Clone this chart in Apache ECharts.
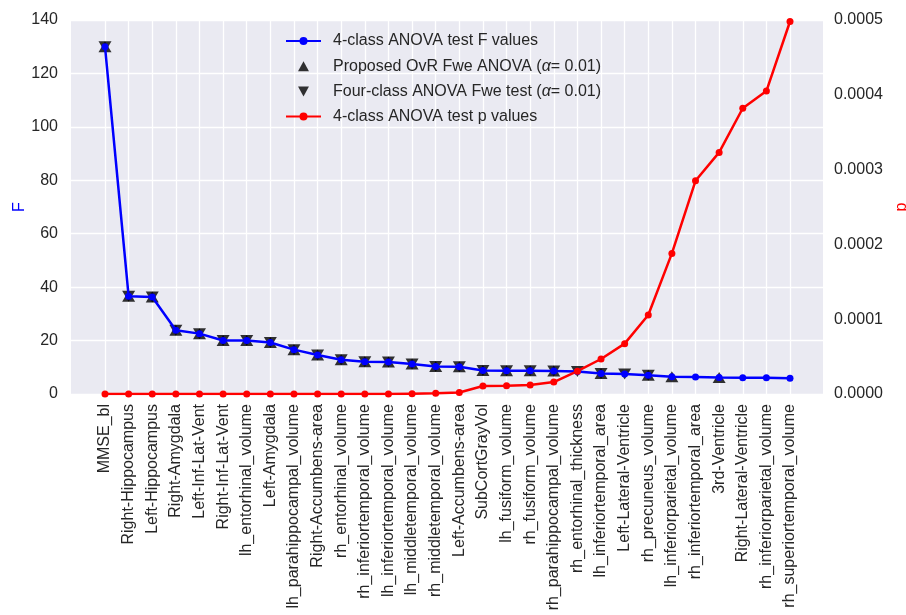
<!DOCTYPE html>
<html>
<head>
<meta charset="utf-8">
<script src="https://cdn.jsdelivr.net/npm/echarts@6/dist/echarts.min.js"></script>
<style>
  html, body { margin: 0; padding: 0; background: #fff; }
  #chart { width: 906px; height: 615px; }
</style>
</head>
<body>
<div id="chart"></div>
<script>
const features = [
    'MMSE_bl', 'Right-Hippocampus', 'Left-Hippocampus', 'Right-Amygdala', 'Left-Inf-Lat-Vent',
    'Right-Inf-Lat-Vent', 'lh_entorhinal_volume', 'Left-Amygdala', 'lh_parahippocampal_volume',
    'Right-Accumbens-area', 'rh_entorhinal_volume', 'rh_inferiortemporal_volume',
    'lh_inferiortemporal_volume', 'lh_middletemporal_volume', 'rh_middletemporal_volume',
    'Left-Accumbens-area', 'SubCortGrayVol', 'lh_fusiform_volume', 'rh_fusiform_volume',
    'rh_parahippocampal_volume', 'rh_entorhinal_thickness', 'lh_inferiortemporal_area',
    'Left-Lateral-Ventricle', 'rh_precuneus_volume', 'lh_inferiorparietal_volume',
    'rh_inferiortemporal_area', '3rd-Ventricle', 'Right-Lateral-Ventricle',
    'rh_inferiorparietal_volume', 'rh_superiortemporal_volume'
];

const fValues = [
    130.0, 36.6, 36.3, 23.9, 22.6, 20.0, 20.0, 19.3, 16.6, 14.6,
    12.8, 12.1, 12.0, 11.2, 10.3, 10.2, 8.8, 8.7, 8.7, 8.6,
    8.4, 7.7, 7.5, 7.0, 6.5, 6.4, 6.2, 6.1, 6.1, 5.9
];

const pValues = [
    0, 0, 0, 0, 0, 0, 0, 0, 0, 0,
    0, 0, 0, 0.0000005, 0.000001, 0.000002, 0.0000107, 0.0000110, 0.0000120, 0.0000160,
    0.0000305, 0.0000468, 0.0000673, 0.0001056, 0.000188, 0.000285, 0.000323, 0.000382, 0.000405, 0.000498
];

// 1 = feature selected by the test
const ovrSelected = [
    1, 1, 1, 1, 1, 1, 1, 1, 1, 1,
    1, 1, 1, 1, 1, 1, 1, 1, 1, 1,
    0, 1, 0, 1, 1, 0, 1, 0, 0, 0
];
const fourClassSelected = [
    1, 1, 1, 1, 1, 1, 1, 1, 1, 1,
    1, 1, 1, 1, 1, 1, 1, 1, 1, 1,
    1, 1, 1, 1, 0, 0, 0, 0, 0, 0
];

const fTicks = { min: 0, max: 140, interval: 20 };
const pTicks = { min: 0, max: 0.0005, interval: 0.0001 };

const textColor = '#262626';
const font = '"Liberation Sans", Arial, sans-serif';
const triUp = 'path://M6,0L12,11L0,11Z';
const triDown = 'path://M0,0L12,0L6,11Z';

const chart = echarts.init(document.getElementById('chart'));

chart.setOption({
    animation: false,
    textStyle: { fontFamily: font },
    grid: [
        { left: 71, right: 83, top: 20, bottom: 221, show: true, backgroundColor: '#EAEAF2', borderWidth: 0, containLabel: false, outerBoundsMode: 'none' },
        { left: 105, right: 116, top: 20, bottom: 221, containLabel: false, outerBoundsMode: 'none' }
    ],
    legend: {
        orient: 'vertical',
        left: 285,
        top: 33,
        padding: 0,
        itemWidth: 35,
        itemHeight: 10,
        itemGap: 9.2,
        textStyle: {
            fontSize: 16,
            color: textColor,
            fontFamily: font,
            padding: [0, 0, 0, 7],
            rich: { a: { fontSize: 16, fontStyle: 'italic', fontFamily: font, color: textColor } }
        },
        formatter: name => name.replace('α', '{a|α}'),
        data: [
            '4-class ANOVA test F values',
            'Proposed OvR Fwe ANOVA (α= 0.01)',
            'Four-class ANOVA Fwe test (α= 0.01)',
            '4-class ANOVA test p values'
        ]
    },
    xAxis: [
        { gridIndex: 0, type: 'value', min: 0, max: 1, show: false },
        {
            gridIndex: 1,
            type: 'category',
            boundaryGap: false,
            data: features,
            axisLine: { show: false },
            axisTick: { show: false },
            axisLabel: { rotate: 90, interval: 0, margin: 10, fontSize: 16, color: textColor, fontFamily: font },
            splitLine: { show: true, lineStyle: { color: '#ffffff', width: 1.3 } }
        }
    ],
    yAxis: [
        {
            gridIndex: 0,
            type: 'value',
            ...fTicks,
            name: 'F',
            nameLocation: 'middle',
            nameRotate: 90,
            nameGap: 43,
            nameMoveOverlap: false,
            nameTextStyle: { color: '#0000ff', fontSize: 16, fontFamily: font },
            axisLine: { show: false },
            axisTick: { show: false },
            axisLabel: { margin: 13, fontSize: 16, color: textColor, fontFamily: font },
            splitLine: { show: true, lineStyle: { color: '#ffffff', width: 1.3 } }
        },
        {
            gridIndex: 0,
            type: 'value',
            position: 'right',
            ...pTicks,
            name: 'p',
            nameLocation: 'middle',
            nameRotate: 90,
            nameGap: 68,
            nameTextStyle: { color: '#ff0000', fontSize: 16, fontFamily: font },
            axisLine: { show: false },
            axisTick: { show: false },
            axisLabel: { margin: 11, fontSize: 16, color: textColor, fontFamily: font, formatter: v => v.toFixed(4) },
            splitLine: { show: false }
        },
        { gridIndex: 1, type: 'value', ...fTicks, show: false, splitLine: { show: false } },
        { gridIndex: 1, type: 'value', ...pTicks, show: false, splitLine: { show: false } }
    ],
    series: [
        {
            name: '4-class ANOVA test F values',
            type: 'line',
            xAxisIndex: 1,
            yAxisIndex: 2,
            data: fValues,
            symbol: 'circle',
            symbolSize: 7,
            lineStyle: { color: '#0000ff', width: 2.5 },
            itemStyle: { color: '#0000ff' }
        },
        {
            name: 'Proposed OvR Fwe ANOVA (α= 0.01)',
            type: 'scatter',
            xAxisIndex: 1,
            yAxisIndex: 2,
            data: fValues.map((v, i) => ovrSelected[i] ? v : null),
            symbol: triUp,
            symbolKeepAspect: true,
            symbolSize: [13, 12],
            itemStyle: { color: '#000000' }
        },
        {
            name: 'Four-class ANOVA Fwe test (α= 0.01)',
            type: 'scatter',
            xAxisIndex: 1,
            yAxisIndex: 2,
            data: fValues.map((v, i) => fourClassSelected[i] ? v : null),
            symbol: triDown,
            symbolKeepAspect: true,
            symbolSize: [13, 12],
            itemStyle: { color: '#000000' }
        },
        {
            name: '4-class ANOVA test p values',
            type: 'line',
            xAxisIndex: 1,
            yAxisIndex: 3,
            data: pValues,
            symbol: 'circle',
            symbolSize: 7,
            lineStyle: { color: '#ff0000', width: 2.5 },
            itemStyle: { color: '#ff0000' }
        }
    ]
});
</script>
</body>
</html>
